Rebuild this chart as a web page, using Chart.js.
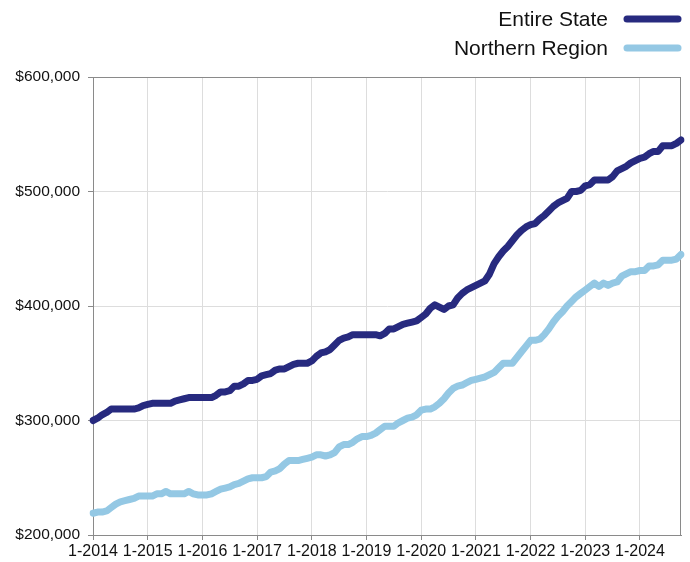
<!DOCTYPE html>
<html>
<head>
<meta charset="utf-8">
<script src="https://cdn.jsdelivr.net/npm/chart.js@4/dist/chart.umd.min.js"></script>
<style>
  html, body { margin: 0; padding: 0; background: #fff; }
  #wrap { width: 690px; height: 562px; }
</style>
</head>
<body>
<div id="wrap"><canvas id="myChart"></canvas></div>
<script>
// first year on the axis, one label per year, monthly points after that
const years = [2014, 2015, 2016, 2017, 2018, 2019, 2020, 2021, 2022, 2023, 2024];
const monthCount = 130; // 1-2014 .. 10-2024

// median price in thousands of dollars
const entireState = [
  300, 302, 305, 307, 310, 310, 310, 310, 310, 310, 311, 313,
  314, 315, 315, 315, 315, 315, 317, 318, 319, 320, 320, 320,
  320, 320, 320, 322, 325, 325, 326, 330, 330, 332, 335, 335,
  336, 339, 340, 341, 344, 345, 345, 347, 349, 350, 350, 350,
  352, 356, 359, 360, 362, 366, 370, 372, 373, 375, 375, 375,
  375, 375, 375, 374, 376, 380, 380, 382, 384, 385, 386, 387,
  390, 393, 398, 401, 399, 397, 400, 401, 407, 411, 414, 416,
  418, 420, 422, 428, 437, 443, 448, 452, 457, 462, 466, 469,
  471, 472, 476, 479, 483, 487, 490, 492, 494, 500, 500, 501,
  505, 506, 510, 510, 510, 510, 513, 518, 520, 522, 525, 527,
  529, 530, 533, 535, 535, 540, 540, 540, 542, 545
];
const northernRegion = [
  219, 220, 220, 221, 224, 227, 229, 230, 231, 232, 234, 234,
  234, 234, 236, 236, 238, 236, 236, 236, 236, 238, 236, 235,
  235, 235, 236, 238, 240, 241, 242, 244, 245, 247, 249, 250,
  250, 250, 251, 255, 256, 258, 262, 265, 265, 265, 266, 267,
  268, 270, 270, 269, 270, 272, 277, 279, 279, 281, 284, 286,
  286, 287, 289, 292, 295, 295, 295, 298, 300, 302, 303, 305,
  309, 310, 310, 312, 315, 319, 324, 328, 330, 331, 333, 335,
  336, 337, 338, 340, 342, 346, 350, 350, 350, 355, 360, 365,
  370, 370, 371, 375, 380, 386, 391, 395, 400, 404, 408, 411,
  414, 417, 420, 417, 420, 418, 420, 421, 426, 428, 430, 430,
  431, 431, 435, 435, 436, 440, 440, 440, 441, 445
];

const months = [];
for (let i = 0; i < monthCount; i++) {
  months.push((i % 12 + 1) + '-' + years[Math.floor(i / 12)]);
}

const FONT = "'Liberation Sans', Arial, Helvetica, sans-serif";

// legend with text on the left and a thick line on the right, stacked
const sideLegend = {
  id: 'sideLegend',
  afterDraw(chart) {
    const ctx = chart.ctx;
    ctx.save();
    ctx.font = '21px ' + FONT;
    ctx.textAlign = 'right';
    ctx.textBaseline = 'middle';
    chart.data.datasets.forEach((ds, i) => {
      const y = 19 + i * 29;
      ctx.fillStyle = '#111';
      ctx.fillText(ds.label, 608, y + 1);
      ctx.strokeStyle = ds.borderColor;
      ctx.lineWidth = 7;
      ctx.lineCap = 'round';
      ctx.beginPath();
      ctx.moveTo(627, y);
      ctx.lineTo(678, y);
      ctx.stroke();
    });
    ctx.restore();
  }
};

// box round the plot (top and right sides too)
const plotBox = {
  id: 'plotBox',
  beforeDatasetsDraw(chart) {
    const a = chart.chartArea;
    const ctx = chart.ctx;
    ctx.save();
    ctx.strokeStyle = '#8a8a8a';
    ctx.lineWidth = 1;
    ctx.strokeRect(a.left + 0.5, a.top + 0.5, a.right - a.left - 1, a.bottom - a.top);
    ctx.restore();
  }
};

new Chart(document.getElementById('myChart'), {
  type: 'line',
  data: {
    labels: months,
    datasets: [{
      label: 'Entire State',
      data: entireState.map(v => v * 1000),
      borderColor: '#272a7f',
      borderWidth: 7,
      pointRadius: 0,
      tension: 0,
      borderJoinStyle: 'round',
      borderCapStyle: 'round'
    }, {
      label: 'Northern Region',
      data: northernRegion.map(v => v * 1000),
      borderColor: '#94c8e4',
      borderWidth: 7,
      pointRadius: 0,
      tension: 0,
      borderJoinStyle: 'round',
      borderCapStyle: 'round'
    }]
  },
  options: {
    responsive: true,
    maintainAspectRatio: false,
    animation: false,
    layout: { padding: { top: 77, right: 9, left: 0, bottom: 0 } },
    plugins: {
      legend: { display: false },
      tooltip: { enabled: false }
    },
    scales: {
      x: {
        offset: false,
        grid: {
          color: (c) => (c.index % 12 === 0 ? '#dddddd' : 'rgba(0,0,0,0)'),
          tickColor: (c) => (c.index % 12 === 0 ? '#8a8a8a' : 'rgba(0,0,0,0)'),
          tickLength: 5
        },
        border: { color: '#8a8a8a' },
        ticks: {
          autoSkip: false,
          maxRotation: 0,
          padding: 2,
          color: '#111',
          font: { family: FONT, size: 16 },
          callback: (v, i) => (i % 12 === 0 ? months[i] : '')
        },
        afterFit: (s) => { s.height = 27; }
      },
      y: {
        min: 200000,
        max: 600000,
        grid: { color: '#dddddd', tickColor: '#8a8a8a', tickLength: 5 },
        border: { color: '#8a8a8a' },
        ticks: {
          stepSize: 100000,
          padding: 8,
          color: '#111',
          font: { family: FONT, size: 15.5 },
          callback: (v) => '$' + v.toLocaleString('en-US')
        },
        afterFit: (s) => { s.width = 93; }
      }
    }
  },
  plugins: [plotBox, sideLegend]
});
</script>
</body>
</html>
